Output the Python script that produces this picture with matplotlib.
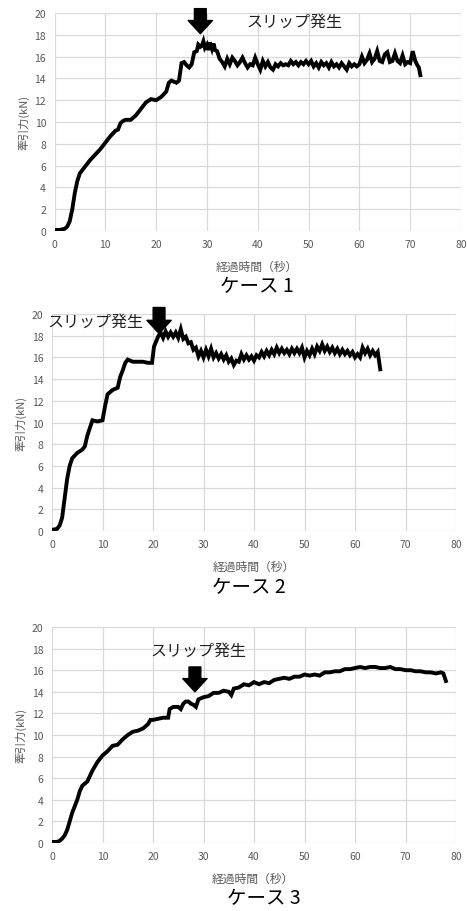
import matplotlib
matplotlib.use("Agg")
import matplotlib.pyplot as plt

plt.rcParams['font.family'] = ['Noto Sans CJK JP', 'DejaVu Sans']

# case 1 (time s, traction kN)
t1 = [0, 1, 2, 2.5, 3, 3.5, 4, 4.5, 5, 5.5, 6, 7, 8, 9, 10, 11, 12, 12.5, 13, 13.5,
      14, 15, 16, 17, 18, 19, 20, 21, 22, 22.5, 23, 23.5, 24, 24.5, 25, 25.5, 26, 26.5,
      27, 27.5, 28, 28.3, 28.7, 29, 29.3, 29.6, 30, 30.3, 30.6, 31, 31.3, 31.6, 32, 32.5,
      33, 33.5, 34, 34.5, 35, 35.5, 36, 36.5, 37, 37.5, 38, 38.5, 39, 39.5, 40, 40.5,
      41, 41.5, 42, 42.5, 43, 43.5, 44, 44.5, 45, 45.5, 46, 46.5, 47, 47.5, 48, 48.5,
      49, 49.5, 50, 50.5, 51, 51.5, 52, 52.5, 53, 53.5, 54, 54.5, 55, 55.5, 56, 56.5,
      57, 57.5, 58, 58.5, 59, 59.5, 60, 60.5, 61, 61.5, 62, 62.5, 63, 63.5, 64, 64.5,
      65, 65.5, 66, 66.5, 67, 67.5, 68, 68.5, 69, 69.5, 70, 70.5, 71, 71.3, 71.7, 72]
f1 = [0.1, 0.1, 0.2, 0.4, 0.9, 2.0, 3.5, 4.6, 5.3, 5.6, 5.9, 6.5, 7.0, 7.5, 8.1, 8.7, 9.2, 9.3, 9.9, 10.1,
      10.2, 10.2, 10.6, 11.2, 11.8, 12.1, 12.0, 12.3, 12.8, 13.6, 13.8, 13.7, 13.6, 13.8, 15.4, 15.5, 15.2, 15.0,
      15.3, 16.4, 16.5, 17.1, 16.9, 17.0, 17.4, 16.8, 17.1, 16.6, 17.3, 16.7, 17.2, 16.6, 16.5, 15.8,
      15.5, 15.1, 15.8, 15.3, 15.9, 15.6, 15.2, 15.5, 15.9, 15.4, 15.0, 15.3, 15.2, 15.9, 15.3, 14.8,
      15.6, 15.1, 15.5, 15.0, 14.8, 15.3, 15.1, 15.4, 15.2, 15.3, 15.2, 15.6, 15.3, 15.5, 15.2, 15.5,
      15.3, 15.6, 15.3, 15.6, 15.1, 15.4, 15.0, 15.5, 15.2, 15.4, 15.0, 15.5, 15.1, 15.3, 15.0, 15.4,
      15.1, 14.8, 15.4, 15.1, 15.3, 15.1, 15.3, 16.0, 15.4, 15.7, 16.3, 15.5, 15.8, 16.5, 15.6, 15.5,
      16.2, 16.4, 15.5, 15.6, 16.3, 15.6, 15.4, 16.1, 15.3, 15.5, 15.4, 16.5, 15.6, 15.3, 15.0, 14.3]

# case 2
t2 = [0, 0.5, 1, 1.5, 2, 2.5, 3, 3.5, 4, 5, 6, 6.5, 7, 8, 9, 10, 10.5, 11, 12, 13,
      13.5, 14, 14.5, 15, 16, 17, 18, 19, 19.8, 20.2, 21, 21.5, 22, 22.5, 23, 23.5, 24, 24.5,
      25, 25.5, 26, 26.5, 27, 27.5, 28, 28.5, 29, 29.5, 30, 30.5, 31, 31.5, 32, 32.5,
      33, 33.5, 34, 34.5, 35, 35.5, 36, 36.5, 37, 37.5, 38, 38.5, 39, 39.5, 40, 40.5,
      41, 41.5, 42, 42.5, 43, 43.5, 44, 44.5, 45, 45.5, 46, 46.5, 47, 47.5, 48, 48.5,
      49, 49.5, 50, 50.5, 51, 51.5, 52, 52.5, 53, 53.5, 54, 54.5, 55, 55.5, 56, 56.5,
      57, 57.5, 58, 58.5, 59, 59.5, 60, 60.5, 61, 61.5, 62, 62.5, 63, 63.5, 64, 64.5, 65]
f2 = [0.1, 0.15, 0.2, 0.5, 1.2, 3.0, 4.8, 6.0, 6.7, 7.2, 7.5, 7.8, 8.8, 10.2, 10.1, 10.2, 11.5, 12.6, 13.0, 13.2,
      14.2, 14.8, 15.5, 15.8, 15.6, 15.6, 15.6, 15.5, 15.5, 17.0, 17.9, 18.3, 17.8, 18.4, 17.9, 18.3, 17.9, 18.3,
      17.8, 18.6, 17.7, 17.9, 17.3, 17.4, 16.7, 16.9, 16.1, 16.6, 16.0, 16.7, 16.1, 16.8, 16.0, 16.4,
      15.9, 16.3, 15.8, 16.2, 15.6, 15.9, 15.3, 15.7, 15.6, 16.3, 15.8, 16.2, 15.8, 16.1, 15.7, 16.2,
      16.0, 16.5, 16.1, 16.6, 16.2, 16.7, 16.3, 16.9, 16.4, 16.8, 16.4, 16.7, 16.3, 16.8, 16.4, 16.8,
      16.4, 16.9, 16.0, 16.6, 16.2, 16.8, 16.3, 17.0, 16.6, 17.2, 16.6, 17.0, 16.5, 16.9, 16.4, 16.8,
      16.3, 16.7, 16.3, 16.6, 16.2, 16.5, 16.0, 16.3, 16.0, 16.9, 16.4, 16.8, 16.2, 16.6, 16.2, 16.5, 14.9]

# case 3
t3 = [0, 0.5, 1, 1.5, 2, 2.5, 3, 3.5, 4, 4.5, 5, 5.5, 6, 6.5, 7, 7.5, 8, 9, 10, 11,
      12, 13, 14, 15, 16, 17, 18, 19, 19.5, 20, 21, 22, 23, 23.3, 24, 25, 25.5, 26,
      26.5, 27, 27.5, 28, 28.5, 29, 30, 31, 32, 33, 34, 35, 35.5, 36, 37, 38, 39, 40,
      41, 42, 43, 44, 45, 46, 47, 48, 49, 50, 51, 52, 53, 54, 55, 56, 57, 58, 59, 60,
      61, 62, 63, 64, 65, 66, 67, 68, 69, 70, 71, 72, 73, 74, 75, 76, 77, 77.5, 78]
f3 = [0.1, 0.1, 0.1, 0.2, 0.4, 0.7, 1.2, 2.0, 2.8, 3.4, 4.0, 4.8, 5.3, 5.5, 5.7, 6.2, 6.7, 7.5, 8.1, 8.5,
      9.0, 9.1, 9.6, 10.0, 10.3, 10.4, 10.6, 11.0, 11.4, 11.4, 11.5, 11.6, 11.6, 12.4, 12.6, 12.6, 12.4, 12.9,
      13.1, 13.1, 12.9, 12.8, 12.6, 13.3, 13.5, 13.6, 13.9, 13.9, 14.1, 14.0, 13.7, 14.3, 14.4, 14.7, 14.6, 14.9,
      14.7, 14.9, 14.8, 15.1, 15.2, 15.3, 15.2, 15.4, 15.4, 15.6, 15.5, 15.6, 15.5, 15.8, 15.8, 15.9, 15.9, 16.1, 16.1, 16.2,
      16.3, 16.2, 16.3, 16.3, 16.2, 16.2, 16.3, 16.1, 16.1, 16.0, 16.0, 15.9, 15.9, 15.8, 15.8, 15.7, 15.8, 15.7, 15.0]

cases = ['ケース 1', 'ケース 2', 'ケース 3']
slip_label = 'スリップ発生'
arrow_x = [28.7, 21.2, 28.3]
arrow_tip = [18.1, 18.2, 14.0]
arrow_top = [20.4, 20.6, 16.3]
label_xy = [(47.3, 19.2), (8.5, 19.3), (28.9, 17.8)]

W, H = 467, 912
fig = plt.figure(figsize=(W / 100, H / 100), dpi=100)

# axes boxes in pixels: left, right, top, bottom
boxes = [(54.5, 461, 14, 232), (52, 456, 315, 532), (52, 456, 628, 844)]
xlab_y = [267, 567, 879]
xlab_x = [257, 254, 253]
case_y = [287, 588, 899]
case_x = [257, 249, 264]

gray = '#595959'
series = [(t1, f1), (t2, f2), (t3, f3)]

for i, (l, r, t, b) in enumerate(boxes):
    ax = fig.add_axes([l / W, 1 - b / H, (r - l) / W, (b - t) / H])
    x, y = series[i]
    ax.plot(x, y, color='black', lw=2.8, solid_joinstyle='miter')
    ax.set_xlim(0, 80)
    ax.set_ylim(0, 20)
    ax.set_xticks(range(0, 81, 10))
    ax.set_yticks(range(0, 21, 2))
    ax.grid(True, color='#d9d9d9', lw=0.9)
    ax.set_axisbelow(True)
    for s in ax.spines.values():
        s.set_visible(False)
    ax.tick_params(length=0, labelsize=7.5, labelcolor=gray, pad=6)
    ax.set_ylabel('牽引力(kN)', fontsize=8, color=gray, labelpad=4)

    ax.annotate('', xy=(arrow_x[i], arrow_tip[i]), xytext=(arrow_x[i], arrow_top[i]),
                arrowprops=dict(width=8.5, headwidth=17.5, headlength=9.5, shrink=0,
                                color='black'),
                annotation_clip=False)
    ax.text(label_xy[i][0], label_xy[i][1], slip_label, ha='center', va='center',
            fontsize=11.5, color='#222222')

    fig.text(xlab_x[i] / W, 1 - xlab_y[i] / H, '経過時間（秒）', ha='center', va='center',
             fontsize=8.5, color=gray)
    fig.text(case_x[i] / W, 1 - case_y[i] / H, cases[i], ha='center', va='center',
             fontsize=14, color='black')

fig.savefig('out.png', dpi=100)
